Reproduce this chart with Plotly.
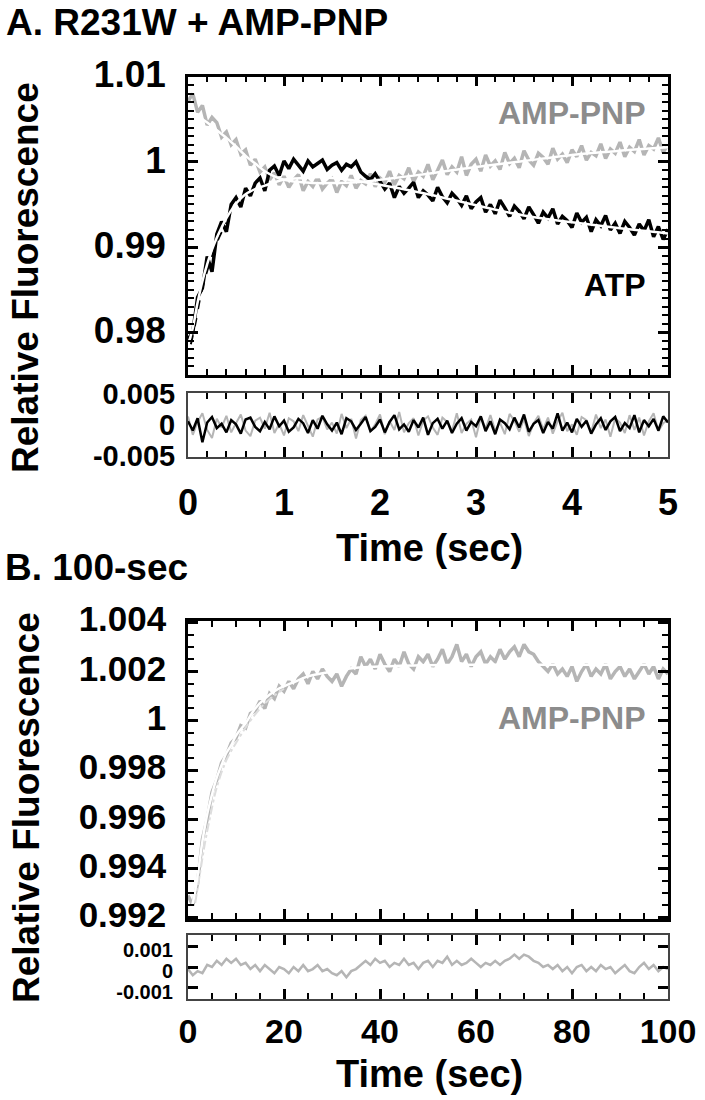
import numpy as np
import plotly.graph_objects as go

# ---------------- Panel A data (0-5 s) ----------------
atp_a = [0.9792, 0.9800, 0.9841, 0.9852, 0.9889, 0.9871, 0.9915, 0.9930, 0.9918, 0.9950,
         0.9958, 0.9947, 0.9969, 0.9960, 0.9975, 0.9981, 0.9966, 0.9990, 0.9995, 0.9984,
         1.0001, 0.9992, 1.0003, 0.9996, 0.9989, 1.0001, 0.9994, 0.9998, 1.0002, 0.9991,
         0.9996, 0.9999, 0.9990, 0.9997, 0.9994, 1.0000, 0.9988, 0.9983, 0.9979, 0.9986,
         0.9977, 0.9968, 0.9975, 0.9958, 0.9971, 0.9963, 0.9969, 0.9976, 0.9958, 0.9966,
         0.9961, 0.9954, 0.9970, 0.9959, 0.9952, 0.9963, 0.9957, 0.9949, 0.9960, 0.9945,
         0.9953, 0.9958, 0.9941, 0.9950, 0.9939, 0.9955, 0.9946, 0.9936, 0.9948, 0.9942,
         0.9933, 0.9947, 0.9938, 0.9928, 0.9941, 0.9934, 0.9945, 0.9927, 0.9936, 0.9931,
         0.9923, 0.9940, 0.9929, 0.9935, 0.9918, 0.9932, 0.9925, 0.9937, 0.9920, 0.9928,
         0.9916, 0.9930, 0.9923, 0.9914, 0.9927, 0.9919, 0.9932, 0.9912, 0.9924, 0.9909,
         0.9921]
amp_a = [1.0071, 1.0080, 1.0058, 1.0066, 1.0043, 1.0052, 1.0046, 1.0029, 1.0035, 1.0020,
         1.0026, 1.0009, 1.0014, 0.9996, 1.0003, 0.9988, 0.9994, 0.9979, 0.9987, 0.9973,
         0.9983, 0.9970, 0.9979, 0.9985, 0.9966, 0.9977, 0.9971, 0.9982, 0.9968, 0.9975,
         0.9980, 0.9964, 0.9977, 0.9972, 0.9984, 0.9969, 0.9978, 0.9974, 0.9986, 0.9971,
         0.9981, 0.9976, 0.9989, 0.9973, 0.9984, 0.9980, 0.9993, 0.9977, 0.9988, 0.9983,
         0.9997, 0.9979, 0.9990, 1.0002, 0.9985, 0.9994, 0.9988, 1.0006, 0.9984, 0.9997,
         1.0003, 0.9989, 1.0008, 0.9995, 1.0001, 0.9991, 1.0011, 0.9998, 1.0004, 0.9993,
         1.0013, 1.0002, 0.9996, 1.0010, 1.0005, 0.9997, 1.0016, 1.0003, 1.0009, 0.9999,
         1.0014, 1.0006, 1.0019, 1.0002, 1.0011, 1.0007, 1.0021, 1.0004, 1.0015, 1.0010,
         1.0023, 1.0006, 1.0017, 1.0012, 1.0026, 1.0008, 1.0019, 1.0015, 1.0028, 1.0011,
         1.0020]
fit_t_a = [0.0, 0.1, 0.2, 0.3, 0.4, 0.5, 0.6, 0.7, 0.8, 0.9, 1.0, 1.1, 1.2, 1.3, 1.5,
           1.75, 2.0, 2.5, 3.0, 3.5, 4.0, 4.5, 5.0]
fit_amp_a = [1.0062, 1.0054, 1.0046, 1.0037, 1.0028, 1.0018, 1.0007, 0.9998, 0.9989, 0.9983,
             0.9979, 0.9977, 0.9976, 0.9975, 0.9975, 0.9976, 0.9979, 0.9986, 0.9994, 1.0001,
             1.0008, 1.0013, 1.0017]
fit_atp_t = [0.0, 0.05, 0.1, 0.15, 0.2, 0.25, 0.3, 0.35, 0.4, 0.45, 0.5, 0.6, 0.7, 0.8, 0.9,
             1.0, 1.2, 1.4, 1.6, 1.8, 2.0, 2.5, 3.0, 3.5, 4.0, 4.5, 5.0]
fit_atp_a = [0.9785, 0.9805, 0.9835, 0.9860, 0.9880, 0.9897, 0.9911, 0.9923, 0.9934, 0.9943,
             0.9951, 0.9962, 0.9968, 0.9972, 0.9976, 0.9979, 0.9981, 0.9982, 0.9980, 0.9977,
             0.9973, 0.9962, 0.9949, 0.9937, 0.9929, 0.9922, 0.9916]
dash_atp_t = [0.03, 0.08, 0.13, 0.2, 0.3, 0.4]
dash_atp_a = [0.9786, 0.9812, 0.9842, 0.9872, 0.9905, 0.9929]

res_atp_a = [0.0006, -0.0009, 0.0011, -0.0028, 0.0004, 0.0013, -0.0005, 0.0002, -0.0012, 0.0008,
             0.0001, -0.0014, 0.0009, 0.0012, -0.0003, -0.0010, 0.0005, -0.0007, 0.0014, -0.0002,
             0.0007, -0.0011, -0.0004, 0.0010, 0.0003, -0.0013, 0.0008, -0.0006, 0.0015, 0.0001,
             -0.0009, 0.0004, -0.0015, 0.0011, 0.0006, -0.0008, 0.0002, 0.0013, -0.0010, -0.0003,
             0.0009, -0.0012, 0.0005, 0.0016, -0.0007, 0.0001, -0.0011, 0.0008, -0.0004, 0.0012,
             -0.0016, 0.0003, 0.0010, -0.0006, 0.0007, -0.0013, 0.0002, 0.0011, -0.0009, 0.0005,
             -0.0002, 0.0014, -0.0010, 0.0006, -0.0015, 0.0009, 0.0003, -0.0007, 0.0012, -0.0004,
             0.0017, -0.0011, 0.0002, 0.0008, -0.0013, 0.0005, -0.0006, 0.0019, -0.0009, 0.0004,
             -0.0012, 0.0010, -0.0003, 0.0007, -0.0014, 0.0001, 0.0011, -0.0008, 0.0006, 0.0013,
             -0.0010, 0.0003, -0.0005, 0.0016, -0.0012, 0.0008, -0.0002, 0.0010, -0.0009, 0.0014,
             0.0004]
res_amp_a = [0.0014, -0.0016, 0.0005, 0.0019, -0.0008, -0.0021, 0.0010, -0.0004, 0.0015, -0.0012,
             0.0003, 0.0017, -0.0009, -0.0018, 0.0007, 0.0012, -0.0006, 0.0020, -0.0013, 0.0002,
             -0.0017, 0.0011, 0.0006, -0.0010, 0.0016, -0.0003, -0.0019, 0.0009, 0.0013, -0.0007,
             0.0004, -0.0014, 0.0018, -0.0005, 0.0010, -0.0022, 0.0008, 0.0015, -0.0011, 0.0001,
             0.0017, -0.0015, 0.0006, -0.0008, 0.0021, -0.0012, 0.0003, 0.0011, -0.0017, 0.0007,
             0.0014, -0.0004, -0.0016, 0.0012, 0.0005, -0.0010, 0.0019, -0.0013, 0.0002, 0.0009,
             -0.0020, 0.0013, -0.0006, 0.0016, -0.0009, 0.0004, -0.0015, 0.0018, 0.0007, -0.0011,
             0.0010, -0.0018, 0.0003, 0.0015, -0.0007, 0.0012, -0.0014, 0.0006, 0.0020, -0.0010,
             0.0001, -0.0016, 0.0013, 0.0008, -0.0012, 0.0017, -0.0005, 0.0009, -0.0019, 0.0011,
             0.0004, -0.0013, 0.0016, -0.0008, 0.0012, -0.0017, 0.0006, 0.0019, -0.0010, 0.0003,
             0.0008]

# ---------------- Panel B data (0-100 s) ----------------
amp_b = [0.9929, 0.9925, 0.9934, 0.9952, 0.9960, 0.9971, 0.9976, 0.9983, 0.9986, 0.9991,
         0.9993, 0.9998, 0.9997, 1.0003, 1.0004, 1.0008, 1.0005, 1.0011, 1.0009, 1.0014,
         1.0012, 1.0016, 1.0013, 1.0017, 1.0019, 1.0015, 1.0020, 1.0017, 1.0021, 1.0018,
         1.0016, 1.0019, 1.0014, 1.0018, 1.0021, 1.0019, 1.0026, 1.0022, 1.0025, 1.0021,
         1.0027, 1.0023, 1.0020, 1.0025, 1.0022, 1.0028, 1.0023, 1.0021, 1.0026, 1.0024,
         1.0027, 1.0022, 1.0025, 1.0029, 1.0023, 1.0026, 1.0031, 1.0024, 1.0027, 1.0022,
         1.0026, 1.0028, 1.0023, 1.0026, 1.0024, 1.0029, 1.0025, 1.0028, 1.0030, 1.0026,
         1.0031, 1.0028, 1.0027, 1.0024, 1.0022, 1.0020, 1.0023, 1.0019, 1.0021, 1.0018,
         1.0022, 1.0016, 1.0020, 1.0023, 1.0018, 1.0021, 1.0019, 1.0023, 1.0017, 1.0020,
         1.0022, 1.0018, 1.0021, 1.0017, 1.0020, 1.0023, 1.0019, 1.0022, 1.0017, 1.0021,
         1.0019]
fit_t_b = [0.5, 1, 2, 3, 4, 5, 6, 7, 8, 9, 10, 12, 14, 16, 18, 20, 22.5, 25, 30, 35, 40,
           50, 60, 80, 100]
fit_amp_b = [0.9923, 0.9926, 0.9937, 0.9951, 0.9962, 0.9970, 0.9977, 0.9982, 0.9987, 0.9990,
             0.9994, 0.9999, 1.0005, 1.0009, 1.0012, 1.0014, 1.0016, 1.0018, 1.0020, 1.00215,
             1.0022, 1.00225, 1.00227, 1.00227, 1.00227]
dash_t_b = [1.5, 2.5, 3.5, 4.5, 6, 8, 10, 13, 16, 20]
dash_amp_b = [0.9926, 0.9938, 0.9950, 0.9960, 0.9973, 0.9984, 0.9991, 1.0000, 1.0007, 1.0013]
res_b = [-0.0001, -0.0004, -0.0002, -0.0003, 0.0001, 0.0000, 0.0003, 0.0001, 0.0004, 0.0002,
         0.0004, 0.0001, 0.0002, -0.0001, 0.0001, -0.0002, 0.0001, -0.0001, -0.0003, 0.0000,
         -0.0001, -0.0003, 0.0000, -0.0002, 0.0001, -0.0002, -0.0001, 0.0001, -0.0002, -0.0001,
         -0.0003, -0.0004, -0.0002, -0.0005, -0.0002, -0.0001, 0.0001, 0.0003, 0.0001, 0.0004,
         0.0002, 0.0003, 0.0000, 0.0002, 0.0001, 0.0004, 0.0001, 0.0002, -0.0001, 0.0002,
         0.0003, 0.0000, 0.0003, 0.0002, 0.0005, 0.0001, 0.0003, 0.0001, 0.0002, 0.0004,
         0.0002, 0.0000, 0.0002, 0.0001, 0.0003, 0.0001, 0.0003, 0.0004, 0.0006, 0.0004,
         0.0006, 0.0005, 0.0003, 0.0002, 0.0000, 0.0001, -0.0001, 0.0001, -0.0002, 0.0000,
         -0.0003, 0.0000, 0.0001, -0.0002, 0.0000, -0.0002, 0.0001, -0.0001, 0.0000, -0.0003,
         -0.0001, 0.0001, -0.0002, -0.0003, 0.0000, 0.0002, -0.0001, 0.0001, -0.0002, 0.0000,
         -0.0001]

# tick labels
ytick_a = [0.98, 0.99, 1.0, 1.01]
ytext_a = ["0.98", "0.99", "1", "1.01"]
ytick_ra = [-0.005, 0, 0.005]
ytext_ra = ["-0.005", "0", "0.005"]
xtick_a = [0, 1, 2, 3, 4, 5]
ytick_b = [0.992, 0.994, 0.996, 0.998, 1.0, 1.002, 1.004]
ytext_b = ["0.992", "0.994", "0.996", "0.998", "1", "1.002", "1.004"]
ytick_rb = [-0.001, 0, 0.001]
ytext_rb = ["-0.001", "0", "0.001"]
xtick_b = [0, 20, 40, 60, 80, 100]

GRAY = "#b5b5b5"
LABELGRAY = "#8c8c8c"
FONT = "Liberation Sans, Arial, Helvetica, sans-serif"

t_a = np.linspace(0, 5, len(atp_a))
t_ra = np.linspace(0, 5, len(res_atp_a))
t_b = np.linspace(0, 100, len(amp_b))
t_rb = np.linspace(0, 100, len(res_b))

fig = go.Figure()
# Panel A main
fig.add_trace(go.Scatter(x=t_a, y=amp_a, mode="lines", line=dict(color=GRAY, width=3.5),
                         xaxis="x", yaxis="y"))
fig.add_trace(go.Scatter(x=t_a, y=atp_a, mode="lines", line=dict(color="black", width=3.5),
                         xaxis="x", yaxis="y"))
fig.add_trace(go.Scatter(x=dash_atp_t, y=dash_atp_a, mode="lines",
                         line=dict(color="black", width=2, dash="dash", shape="spline"),
                         xaxis="x", yaxis="y"))
fig.add_trace(go.Scatter(x=fit_t_a, y=fit_amp_a, mode="lines",
                         line=dict(color="white", width=2.5, shape="spline"), xaxis="x", yaxis="y"))
fig.add_trace(go.Scatter(x=fit_atp_t, y=fit_atp_a, mode="lines",
                         line=dict(color="white", width=2.5, shape="spline"), xaxis="x", yaxis="y"))
# Panel A residuals
fig.add_trace(go.Scatter(x=t_ra, y=res_amp_a, mode="lines", line=dict(color=GRAY, width=2),
                         xaxis="x2", yaxis="y2"))
fig.add_trace(go.Scatter(x=t_ra, y=res_atp_a, mode="lines", line=dict(color="black", width=2.5),
                         xaxis="x2", yaxis="y2"))
# Panel B main
fig.add_trace(go.Scatter(x=t_b, y=amp_b, mode="lines", line=dict(color=GRAY, width=3.5),
                         xaxis="x3", yaxis="y3"))
fig.add_trace(go.Scatter(x=dash_t_b, y=dash_amp_b, mode="lines",
                         line=dict(color="#dddddd", width=2, dash="dashdot", shape="spline"),
                         xaxis="x3", yaxis="y3"))
fig.add_trace(go.Scatter(x=fit_t_b, y=fit_amp_b, mode="lines",
                         line=dict(color="white", width=2.5, shape="spline"), xaxis="x3", yaxis="y3"))
# Panel B residuals
fig.add_trace(go.Scatter(x=t_rb, y=res_b, mode="lines", line=dict(color=GRAY, width=2.5),
                         xaxis="x4", yaxis="y4"))

W, H = 705, 1100
XD = [188 / W, 668 / W]


def ydom(top, bottom):
    return [1 - bottom / H, 1 - top / H]


def xax(rng, tv, minor, show, standoff=6, size=36, lw=2.5, color="black", anchor="y"):
    return dict(domain=XD, range=rng, anchor=anchor, showgrid=False, zeroline=False,
                automargin=False,
                showline=True, linewidth=lw, linecolor=color, mirror="allticks",
                ticks="inside", ticklen=10, tickwidth=2.5, tickcolor="black",
                tickmode="array", tickvals=tv, ticktext=[str(v) for v in tv],
                showticklabels=show, ticklabelstandoff=standoff,
                tickfont=dict(family=FONT, size=size, color="black", weight="bold"),
                minor=dict(dtick=minor, ticks="inside", ticklen=6, tickwidth=2,
                           tickcolor="black", showgrid=False))


def yax(rng, tv, tt, size, dom, minor=None, lw=2.5, color="black", anchor="x", ticklen=10,
        standoff=12, shift=0):
    d = dict(domain=dom, range=rng, anchor=anchor, showgrid=False, zeroline=False,
             automargin=False,
             showline=True, linewidth=lw, linecolor=color, mirror="allticks",
             ticks="inside", ticklen=ticklen, tickwidth=2.5, tickcolor="black",
             tickmode="array", tickvals=tv, ticktext=tt, ticklabelstandoff=standoff,
             ticklabelshift=shift,
             tickfont=dict(family=FONT, size=size, color="black", weight="bold"))
    if minor is not None:
        d["minor"] = dict(dtick=minor, ticks="inside", ticklen=6, tickwidth=2,
                          tickcolor="black", showgrid=False)
    return d


fig.update_layout(
    width=W, height=H, margin=dict(l=0, r=0, t=0, b=0, pad=0),
    paper_bgcolor="white", plot_bgcolor="white", showlegend=False,
    xaxis=xax([0, 5], xtick_a, 0.2, False, anchor="y"),
    yaxis=yax([0.975, 1.01], ytick_a, ytext_a, 37, ydom(76.5, 375), minor=0.001, anchor="x",
              standoff=12, shift=-2),
    xaxis2=xax([0, 5], xtick_a, 0.2, True, standoff=13, lw=2, color="#444444", anchor="y2"),
    yaxis2=yax([-0.0052, 0.0052], ytick_ra, ytext_ra, 29, ydom(393, 457), lw=2,
               color="#444444", anchor="x2", ticklen=0, standoff=5),
    xaxis3=xax([0, 100], xtick_b, 5, False, anchor="y3"),
    yaxis3=yax([0.99195, 1.00405], ytick_b, ytext_b, 35, ydom(621, 919), minor=0.0005,
               anchor="x3", standoff=12, shift=-3),
    xaxis4=xax([0, 100], xtick_b, 5, True, standoff=1, size=34, lw=2, color="#444444",
               anchor="y4"),
    yaxis4=yax([-0.00155, 0.00155], ytick_rb, ytext_rb, 20, ydom(935, 999), lw=2,
               color="#444444", anchor="x4", standoff=9, shift=4),
)


def ann(text, x, y, size, color="black", angle=0, xanchor="center"):
    fig.add_annotation(text=text, x=x / W, y=1 - y / H, xref="paper", yref="paper",
                       showarrow=False, textangle=angle, xanchor=xanchor, yanchor="middle",
                       font=dict(family=FONT, size=size, color=color, weight="bold"))


ann("A. R231W + AMP-PNP", 4, 22, 37, xanchor="left")
ann("B. 100-sec", 3, 567, 37, xanchor="left")
ann("Relative Fluorescence", 26, 278, 37, angle=-90)
ann("Relative Fluorescence", 26, 808, 37, angle=-90)
ann("Time (sec)", 429, 548, 38)
ann("Time (sec)", 429, 1074, 38)
ann("AMP-PNP", 648, 113, 32, color=LABELGRAY, xanchor="right")
ann("ATP", 648, 285, 32, xanchor="right")
ann("AMP-PNP", 648, 718, 32, color=LABELGRAY, xanchor="right")

# remove the browser's default body margin so the figure sits at the page origin
fig.write_html("out.html", config={"displayModeBar": False},
               post_script="document.body.style.margin='0';document.body.style.overflow='hidden';")
